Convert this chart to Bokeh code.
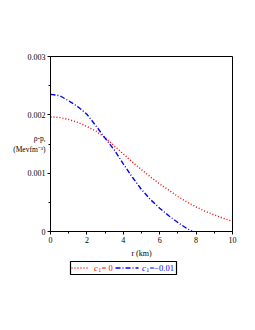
from bokeh.plotting import figure
from bokeh.models import Label, FixedTicker, Range1d
from bokeh.layouts import column
from bokeh.embed import file_html
from bokeh.resources import INLINE

# data (values x 1e-3 MeV fm^-3)
r_red = [0, 0.5, 1, 1.5, 2, 2.5, 3, 3.5, 4, 4.5, 5, 5.5, 6, 6.5, 7, 7.5, 8, 8.5, 9, 9.5, 10]
v_red = [1.965, 1.955, 1.92, 1.87, 1.80, 1.72, 1.61, 1.47, 1.33, 1.19, 1.06, 0.935, 0.815,
         0.71, 0.60, 0.505, 0.42, 0.345, 0.285, 0.225, 0.175]
r_blue = [0, 0.5, 1, 1.5, 2, 2.5, 3, 3.5, 4, 4.5, 5, 5.5, 6, 6.5, 7, 7.5, 7.8]
v_blue = [2.35, 2.33, 2.24, 2.14, 2.01, 1.81, 1.60, 1.40, 1.16, 0.93, 0.72, 0.545, 0.40,
          0.27, 0.155, 0.05, 0.0]
x_ticks = [0, 2, 4, 6, 8, 10]
x_minor = [1, 3, 5, 7, 9]
y_ticks = [0, 0.001, 0.002, 0.003]
y_minor = [0.0005, 0.0015, 0.0025]
y_tick_labels = ["0", "0.001", "0.002", "0.003"]

FONT = "Liberation Serif"
W = 250

p = figure(width=W, height=260, min_border_left=50, min_border_right=18,
           min_border_top=56, min_border_bottom=28, x_range=Range1d(0, 10),
           y_range=Range1d(0, 0.003), output_backend="svg", toolbar_location=None)
p.xgrid.visible = False
p.ygrid.visible = False
p.outline_line_color = "black"
p.outline_line_width = 1
p.background_fill_color = "white"
p.border_fill_color = "white"

p.line(r_red, [v * 1e-3 for v in v_red], line_color="red", line_width=1.4,
       line_dash="1 2")
p.line(r_blue, [v * 1e-3 for v in v_blue], line_color="blue", line_width=1.4,
       line_dash="5 2 1 2")

for ax in (p.xaxis[0], p.yaxis[0]):
    ax.axis_line_color = "black"
    ax.major_tick_line_color = "black"
    ax.minor_tick_line_color = "black"
    ax.major_tick_out = 3
    ax.major_tick_in = 0
    ax.minor_tick_out = 2
    ax.minor_tick_in = 0
    ax.major_label_text_font = FONT
    ax.major_label_text_font_size = "8px"
    ax.major_label_text_color = "black"
    ax.major_label_standoff = 2
    ax.axis_label_text_font = FONT
    ax.axis_label_text_color = "black"
    ax.axis_label_text_font_style = "normal"

p.xaxis[0].ticker = FixedTicker(ticks=x_ticks, minor_ticks=x_minor)
p.yaxis[0].ticker = FixedTicker(ticks=y_ticks, minor_ticks=y_minor)
p.yaxis[0].major_label_overrides = {t: s for t, s in zip(y_ticks, y_tick_labels)}

p.xaxis[0].axis_label = "r (km)"
p.xaxis[0].axis_label_text_font_size = "8px"
p.xaxis[0].axis_label_standoff = 3

p.yaxis[0].axis_label = "ρ-pᵣ\n(Mevfm⁻³)"
p.yaxis[0].axis_label_text_font_size = "7.5px"
p.yaxis[0].axis_label_orientation = "horizontal"
p.yaxis[0].axis_label_standoff = -21


def lab(fig, x, y, text, size, color="black", style="normal", align="left"):
    fig.add_layout(Label(x=x, y=y, text=text, text_font=FONT, text_font_size=size,
                         text_color=color, text_font_style=style, text_align=align,
                         text_baseline="middle"))


# legend strip: same borders as the main plot so the column keeps frames aligned;
# coordinates inside are page pixels
lg = figure(width=W, height=17, min_border_left=50, min_border_right=18,
            min_border_top=0, min_border_bottom=0, x_range=Range1d(50, 232),
            y_range=Range1d(277, 260), output_backend="svg", toolbar_location=None)
lg.axis.visible = False
lg.xgrid.visible = False
lg.ygrid.visible = False
lg.outline_line_color = None
lg.background_fill_color = "white"
lg.border_fill_color = "white"
lg.quad(left=[70], right=[176], bottom=[274], top=[261], fill_color=None,
        line_color="black", line_width=1.2)
lg.line([71, 89], [267.5, 267.5], line_color="red", line_width=1.5, line_dash="1 2")
lg.line([115, 138], [267.5, 267.5], line_color="blue", line_width=1.5, line_dash="5 2 1 2")
lab(lg, 93.5, 267.3, "c", "9px", color="red", style="italic")
lab(lg, 97.8, 269.5, "1", "6px", color="red")
lab(lg, 101, 267.5, "= 0", "8.5px", color="red")
lab(lg, 141.5, 267.3, "c", "9px", color="blue", style="italic")
lab(lg, 145.8, 269.5, "1", "6px", color="blue")
lab(lg, 149, 267.5, "=−0.01", "8.5px", color="blue")

layout = column(p, lg, spacing=0)
open("out.html", "w").write(file_html(layout, INLINE))
